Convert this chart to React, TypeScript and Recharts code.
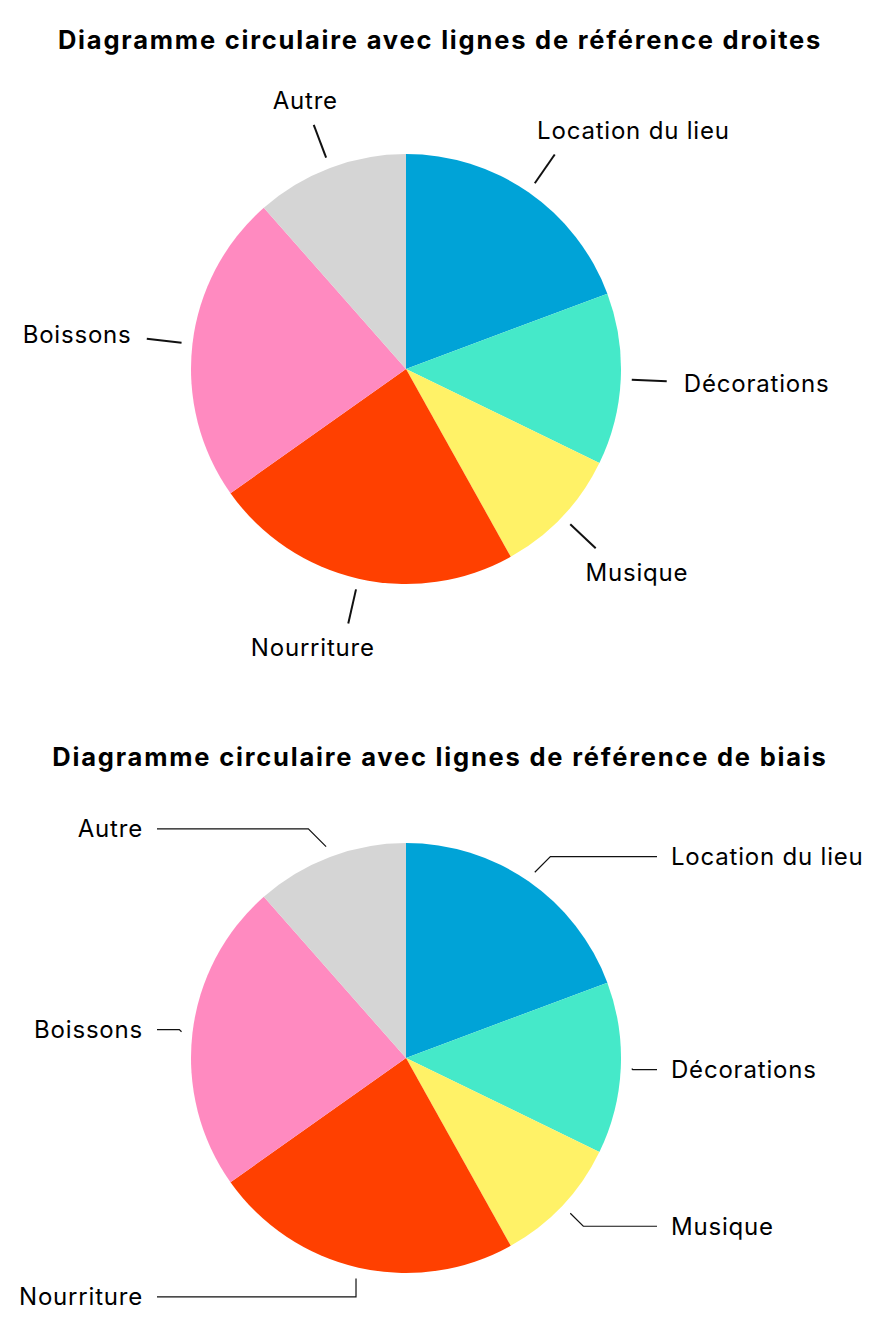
import React from 'react';
import { PieChart, Pie, Cell } from 'recharts';

const CATEGORIES = ['Location du lieu', 'Décorations', 'Musique', 'Nourriture', 'Boissons', 'Autre'];
const VALUES = [19.3, 12.9, 9.7, 23.3, 23.3, 11.5];
const COLORS = ['#00A3D7', '#45E9C9', '#FFF267', '#FF4000', '#FF8AC0', '#D5D5D5'];

const data = CATEGORIES.map((name, i) => ({ name, value: VALUES[i] }));

const RADIAN = Math.PI / 180;
const FONT = 'Inter, "Noto Sans", sans-serif';
const LABEL_SIZE = 24;
const LABEL_SPACING = 0.8;

// short radial tick, label pushed outward
const StraightLabel = (props: any) => {
  const { cx, cy, midAngle, outerRadius, name } = props;
  const h = Math.cos(midAngle * RADIAN);
  const v = Math.sin(midAngle * RADIAN);
  const r1 = outerRadius + 11;
  const r2 = outerRadius + 46;
  const x1 = cx + r1 * h;
  const y1 = cy - r1 * v;
  const x2 = cx + r2 * h;
  const y2 = cy - r2 * v;
  const right = h >= 0;
  const shift = 18 - 46 * Math.pow(Math.abs(v), 1.3);
  const tx = right ? x2 + shift : x2 - shift;
  const ty = y2 - Math.sign(v) * 24 * Math.min(1, Math.abs(v) / 0.6);
  return (
    <g>
      <line x1={x1} y1={y1} x2={x2} y2={y2} stroke="#111" strokeWidth={2} />
      <text
        x={tx}
        y={ty}
        textAnchor={right ? 'start' : 'end'}
        dominantBaseline="central"
        fontSize={LABEL_SIZE}
        letterSpacing={LABEL_SPACING}
        fontFamily={FONT}
        fill="#000"
      >
        {name}
      </text>
    </g>
  );
};

// elbow line: short diagonal then horizontal to a fixed column
const ElbowLabel = (props: any) => {
  const { cx, cy, midAngle, outerRadius, name } = props;
  const h = Math.cos(midAngle * RADIAN);
  const v = Math.sin(midAngle * RADIAN);
  const r1 = outerRadius + 11;
  const sx = cx + r1 * h;
  const sy = cy - r1 * v;
  const ly = cy - (outerRadius + 30) * v;
  const dy = Math.abs(ly - sy);
  const right = h >= 0;
  const ex = Math.abs(h) > 0.3 ? sx + (right ? dy : -dy) : sx;
  const lineEnd = right ? cx + 251 : cx - 249;
  const tx = right ? cx + 265 : cx - 263;
  return (
    <g>
      <polyline
        points={`${sx},${sy} ${ex},${ly} ${lineEnd},${ly}`}
        fill="none"
        stroke="#111"
        strokeWidth={1.2}
      />
      <text
        x={tx}
        y={ly}
        textAnchor={right ? 'start' : 'end'}
        dominantBaseline="central"
        fontSize={LABEL_SIZE}
        letterSpacing={LABEL_SPACING}
        fontFamily={FONT}
        fill="#000"
      >
        {name}
      </text>
    </g>
  );
};

const titleStyle: React.CSSProperties = {
  position: 'absolute',
  left: 0,
  width: 880,
  textAlign: 'center',
  fontFamily: FONT,
  fontWeight: 700,
  fontSize: 25.5,
  letterSpacing: 1.8,
  lineHeight: '30px',
  color: '#000',
  zIndex: 1,
};

const ChartBlock = ({ top, height, title, titleTop, label }: any) => (
  <div style={{ position: 'absolute', left: 0, top, width: 880, height }}>
    <div style={{ ...titleStyle, top: titleTop }}>{title}</div>
    <PieChart width={880} height={height} margin={{ top: 0, right: 0, bottom: 0, left: 0 }}>
      <Pie
        data={data}
        dataKey="value"
        nameKey="name"
        cx={406}
        cy={369}
        outerRadius={215}
        startAngle={90}
        endAngle={-270}
        stroke="none"
        label={label}
        labelLine={false}
        isAnimationActive={false}
      >
        {data.map((d, i) => (
          <Cell key={d.name} fill={COLORS[i]} />
        ))}
      </Pie>
    </PieChart>
  </div>
);

export default function App() {
  return (
    <div style={{ position: 'absolute', left: 0, top: 0, width: 880, height: 1327, background: '#fff' }}>
      <ChartBlock
        top={0}
        height={689}
        titleTop={25}
        title="Diagramme circulaire avec lignes de référence droites"
        label={StraightLabel}
      />
      <ChartBlock
        top={689}
        height={638}
        titleTop={53}
        title="Diagramme circulaire avec lignes de référence de biais"
        label={ElbowLabel}
      />
    </div>
  );
}
